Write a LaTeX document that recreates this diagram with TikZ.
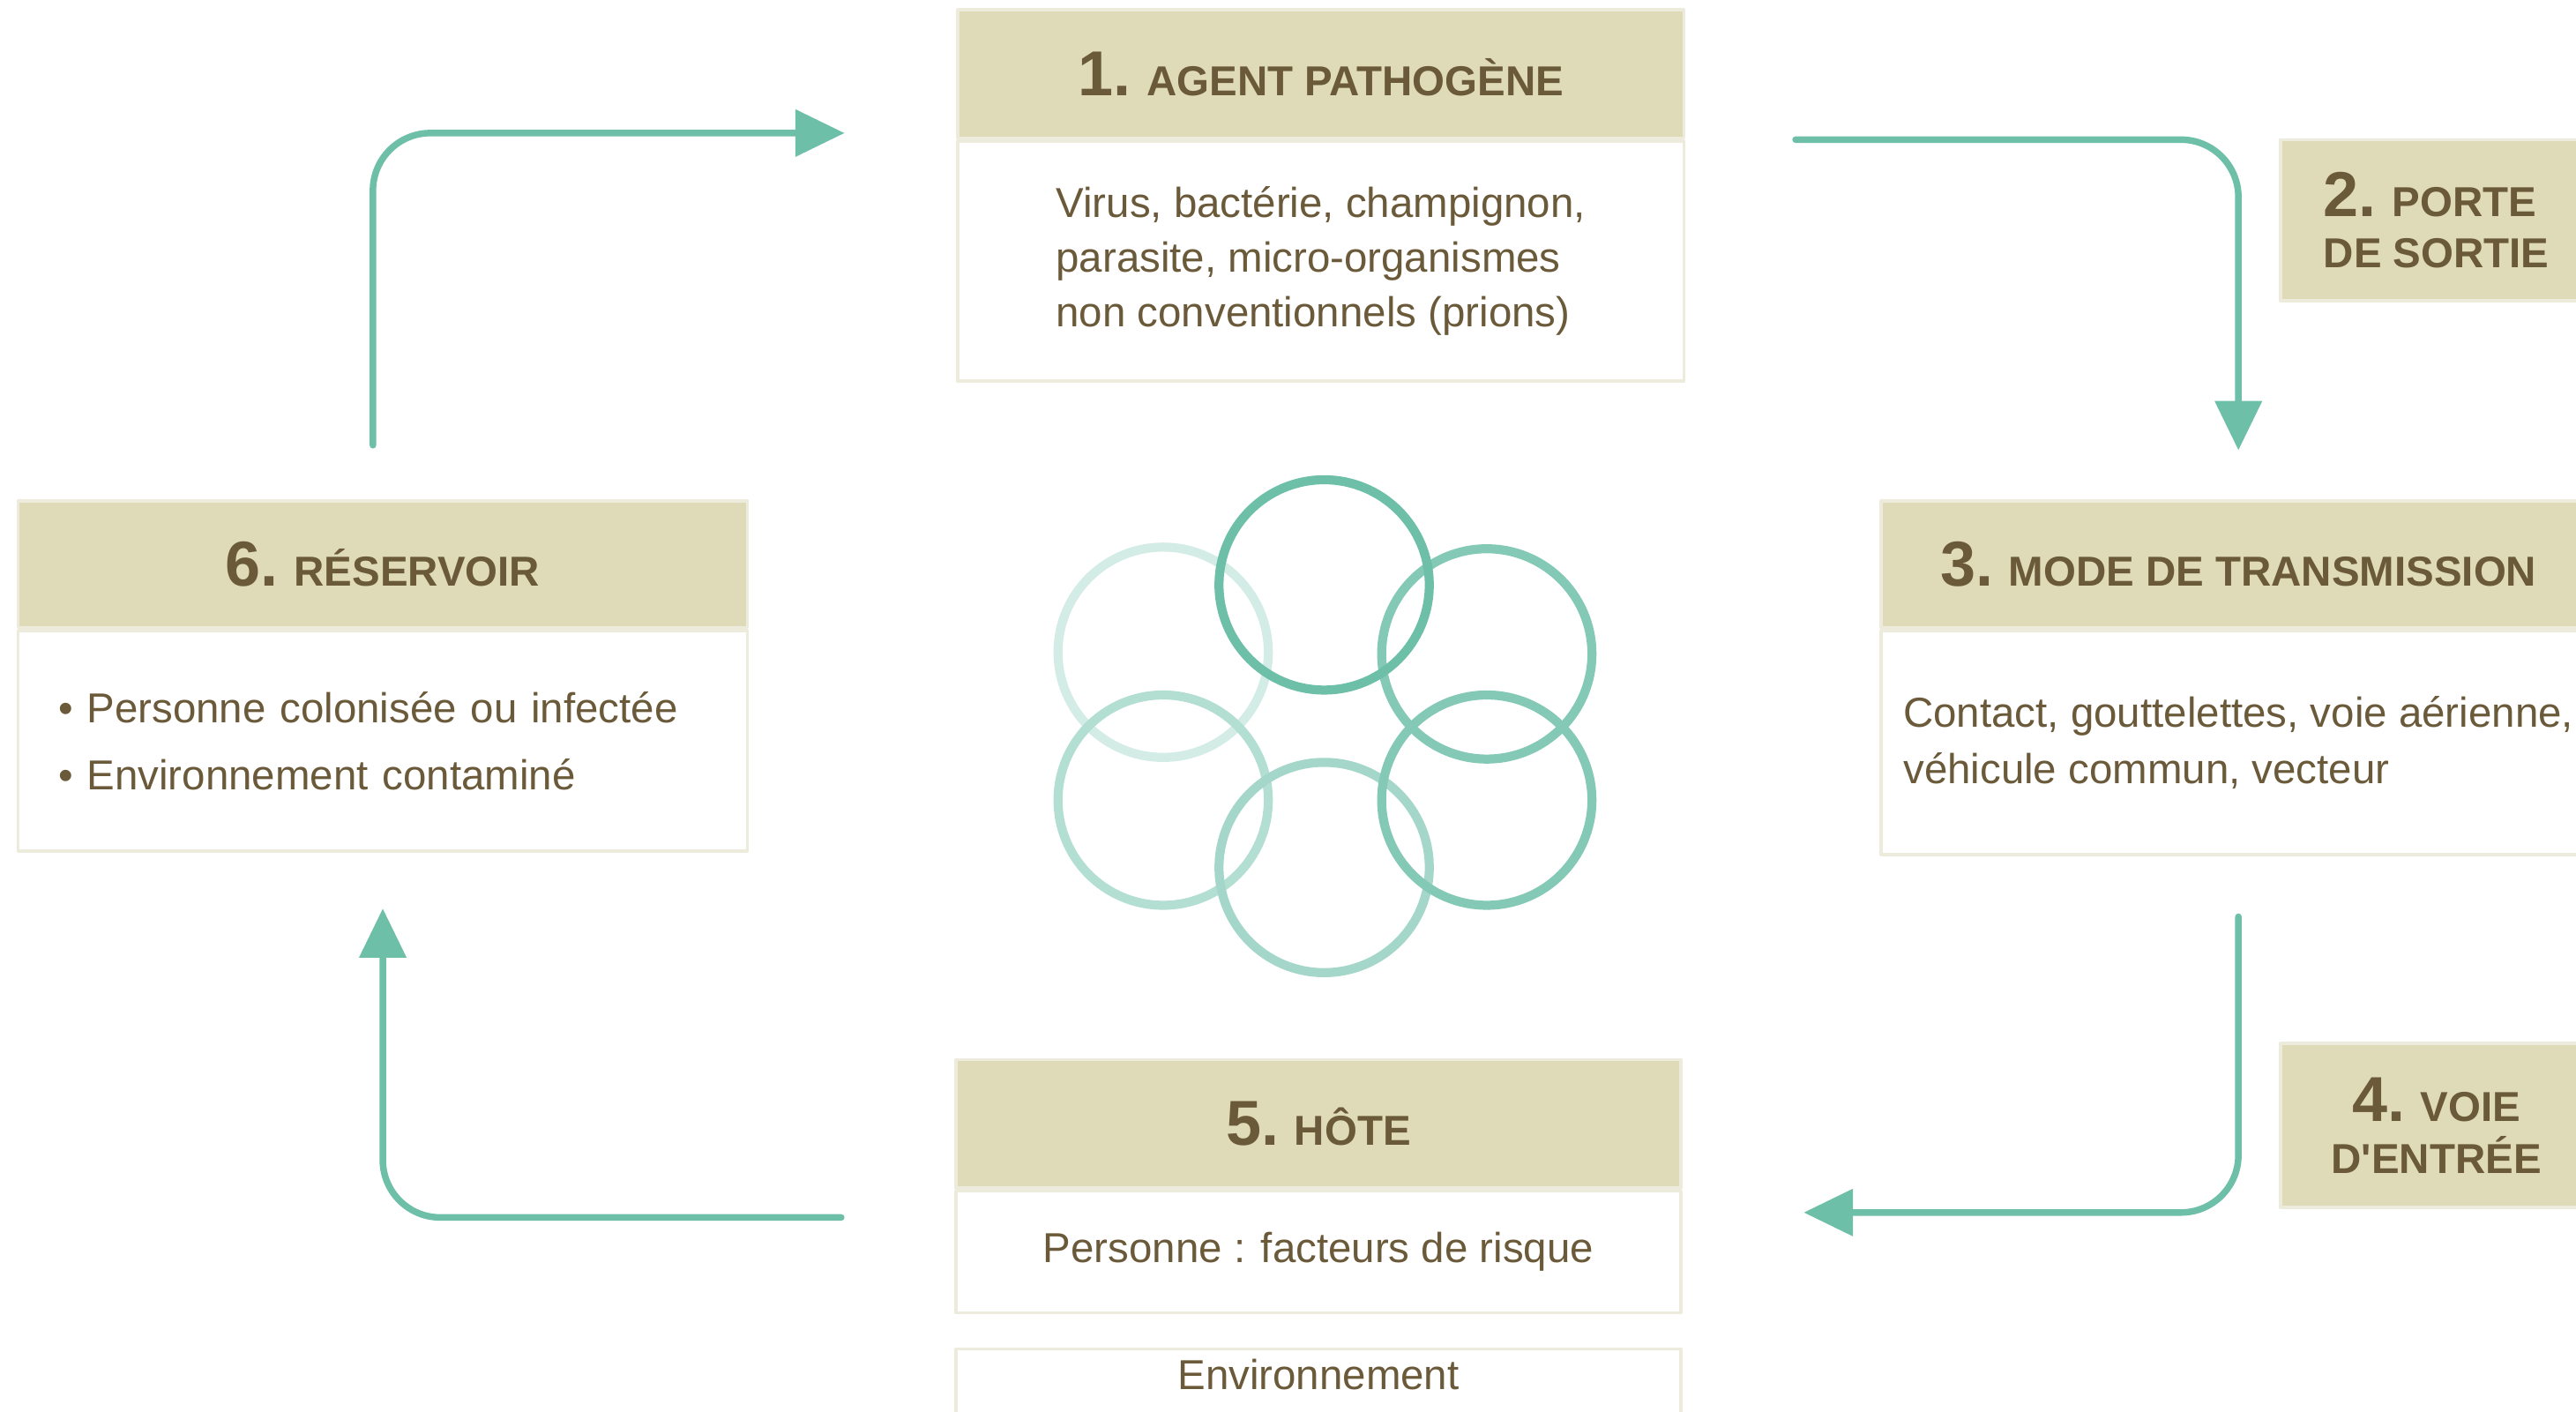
\documentclass[tikz,border=0pt]{standalone}
\usepackage{fontspec}
\setmainfont{Liberation Sans}[Ligatures=TeXOff]
\usepackage{tikz}
\usetikzlibrary{arrows.meta,positioning}

\definecolor{cyclegreen}{HTML}{6DBFA8}
\definecolor{headfill}{HTML}{DFDBB9}
\definecolor{rim}{HTML}{EDEBDC}
\definecolor{ink}{HTML}{6B5A3A}

\newcommand{\stepno}[1]{{\fontsize{22}{22}\selectfont #1}}

\tikzset{
  head/.style={fill=headfill, draw=rim, line width=0.04cm, inner sep=0pt, text=ink,
    font=\bfseries\fontsize{14.5}{18}\selectfont},
  body/.style={fill=white, draw=rim, line width=0.04cm, inner sep=0pt, text=ink,
    align=left, font=\fontsize{14.5}{19}\selectfont},
  flow/.style={->, draw=cyclegreen, line width=0.08cm, rounded corners=0.7cm},
  ring/.style={line width=0.11cm}
}

\begin{document}
\begin{tikzpicture}[line cap=round,line join=round,>={Triangle[length=0.6cm,width=0.56cm]},x=0.02cm,y=-0.02cm]
		\useasboundingbox (0,0) rectangle (1568,859);
		
		% rings in the middle
		\draw[ring, color=cyclegreen!30] (708,397) circle (64);
		\draw[ring, color=cyclegreen!52] (708,487) circle (64);
		\draw[ring, color=cyclegreen!62] (806,528) circle (64);
		\draw[ring, color=cyclegreen!85] (905,487) circle (64);
		\draw[ring, color=cyclegreen!85] (905,398) circle (64);
		\draw[ring, color=cyclegreen] (806,356) circle (64);
		
		% the six steps
		\node[head, minimum width=8.84cm, minimum height=1.56cm] (h1) at (804,45) {\stepno{1.} AGENT PATHOGÈNE};
		\node[body, minimum width=8.84cm, minimum height=2.92cm, below=0pt of h1] (b1) {Virus, bactérie, champignon,\\parasite, micro-organismes\\non conventionnels (prions)};
		
		\node[head, minimum width=3.8cm, minimum height=1.96cm, align=left] (h2) at (1483,134) {\stepno{2.} PORTE\\DE SORTIE};
		
		\node[head, minimum width=8.7cm, minimum height=1.54cm] (h3) at (1362.5,343.5) {\stepno{3.} MODE DE TRANSMISSION};
		\node[body, minimum width=8.7cm, minimum height=2.72cm, below=0pt of h3, font=\fontsize{14.5}{19.3}\selectfont] (b3) {Contact, gouttelettes, voie aérienne,\\véhicule commun, vecteur};
		
		\node[head, minimum width=3.8cm, minimum height=2cm, align=center] (h4) at (1483,685) {\stepno{4.} VOIE\\D'ENTRÉE};
		
		\node[head, minimum width=8.82cm, minimum height=1.56cm] (h5) at (802.5,684) {\stepno{5.} HÔTE};
		\node[body, minimum width=8.82cm, minimum height=1.48cm, below=0pt of h5, align=center] (b5) {Personne : facteurs de risque};
		\node[body, minimum width=8.82cm, text height=0.5cm, text depth=0.66cm, below=0.4cm of b5, align=center] (env) {Environnement};
		
		\node[head, minimum width=8.88cm, minimum height=1.54cm] (h6) at (233,343.5) {\stepno{6.} RÉSERVOIR};
		\node[body, minimum width=8.88cm, minimum height=2.68cm, text width=7.9cm, below=0pt of h6, font=\fontsize{14.5}{23.3}\selectfont] (b6) {• Personne colonisée ou infectée\\• Environnement contaminé};
		
		% cycle arrows
		\draw[flow, shorten <=0.66cm, shorten >=1.36cm] ([xshift=-0.12cm]h6.north) |- ([yshift=0.08cm]h1.south west);
		\draw[flow, shorten <=1.34cm, shorten >=0.6cm] (h1.south east) -| (h3.north);
		\draw[flow, shorten <=0.74cm, shorten >=1.48cm] (b3.south) |- ([yshift=-0.28cm]h5.south east);
		\draw[flow, shorten <=1.38cm, shorten >=0.68cm] ([yshift=-0.34cm]h5.south west) -| (b6.south);
	\end{tikzpicture}
\end{document}
